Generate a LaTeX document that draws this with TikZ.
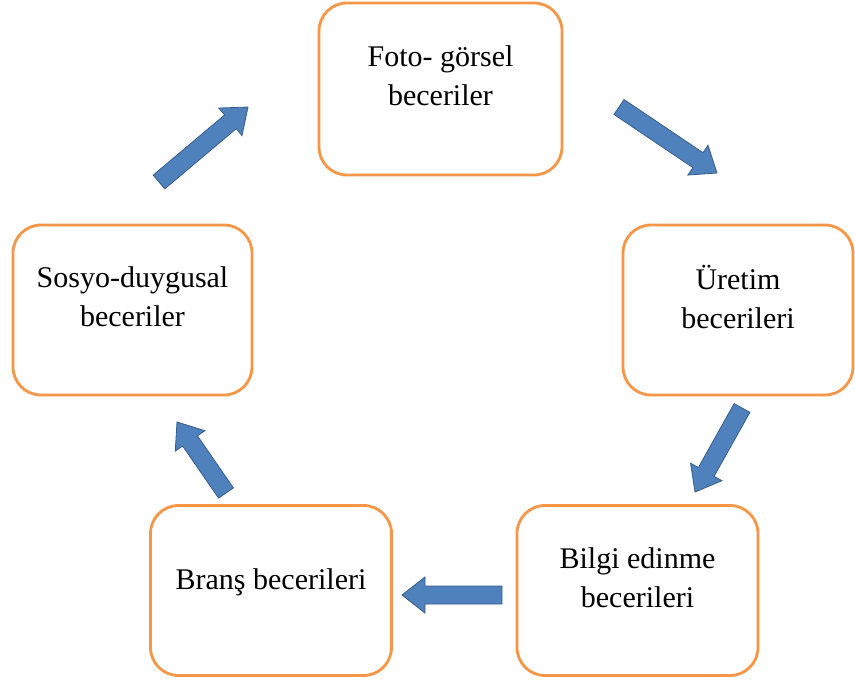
\documentclass[tikz,border=0pt]{standalone}
\usepackage{fontspec}
\setmainfont{Liberation Serif}
\usetikzlibrary{calc}
\definecolor{boxorange}{HTML}{F79646}
\definecolor{arrowfill}{HTML}{4F81BD}
\definecolor{arrowedge}{HTML}{385D8A}
\tikzset{
  skillbox/.style={draw=boxorange, line width=2.8pt, rounded corners=28pt, fill=white,
    minimum width=241pt, minimum height=170pt, inner sep=0pt},
  skilltext/.style={font=\fontsize{30}{39}\selectfont, align=center, inner sep=0pt},
  blockarrow/.style={fill=arrowfill, draw=arrowedge, line width=0.8pt, line join=miter},
}
% block arrow from #1 (tail) to #2 (tip)
\newcommand\skillarrow[2]{%
  \coordinate (bah) at ($(#2)!23pt!(#1)$);
  \path[blockarrow] ($(#1)!9pt!90:(#2)$) -- ($(bah)!9pt!90:(#2)$) -- ($(bah)!18pt!90:(#2)$)
    -- (#2) -- ($(bah)!18pt!-90:(#2)$) -- ($(bah)!9pt!-90:(#2)$) -- ($(#1)!9pt!-90:(#2)$) -- cycle;
}
\begin{document}
\begin{tikzpicture}[x=1pt,y=-1pt]
\useasboundingbox (0,0) rectangle (855,682);

% skill boxes
\node[skillbox, minimum width=243pt, minimum height=172pt] (foto) at (440.5,89) {};
\node[skillbox, minimum width=230pt] (uretim) at (738,310) {};
\node[skillbox, minimum width=239pt] (sosyo) at (132.5,310) {};
\node[skillbox] (brans) at (271,590.5) {};
\node[skillbox] (bilgi) at (637.5,590.5) {};

% box texts
\node[skilltext] (foto-t) at ($(foto.center)+(0,-13)$) {Foto- görsel\\beceriler};
\node[skilltext] (uretim-t) at ($(uretim.center)+(0,-13)$) {Üretim\\becerileri};
\node[skilltext] (sosyo-t) at ($(sosyo.center)+(0,-13)$) {Sosyo-duygusal\\beceriler};
\node[skilltext] (brans-t) at ($(brans.center)+(0,-8)$) {Branş becerileri};
\node[skilltext] (bilgi-t) at ($(bilgi.center)+(0,-13)$) {Bilgi edinme\\becerileri};

% arrow end points
\coordinate (a1s) at (159,182);
\coordinate (a1e) at (248,107);
\coordinate (a2s) at (619,107);
\coordinate (a2e) at (717,173);
\coordinate (a3s) at (742,408);
\coordinate (a3e) at (695,492);
\coordinate (a4s) at (502,595);
\coordinate (a4e) at (402,595);
\coordinate (a5s) at (226,493);
\coordinate (a5e) at (177,422);

\skillarrow{a1s}{a1e}
\skillarrow{a2s}{a2e}
\skillarrow{a3s}{a3e}
\skillarrow{a4s}{a4e}
\skillarrow{a5s}{a5e}
\end{tikzpicture}
\end{document}
